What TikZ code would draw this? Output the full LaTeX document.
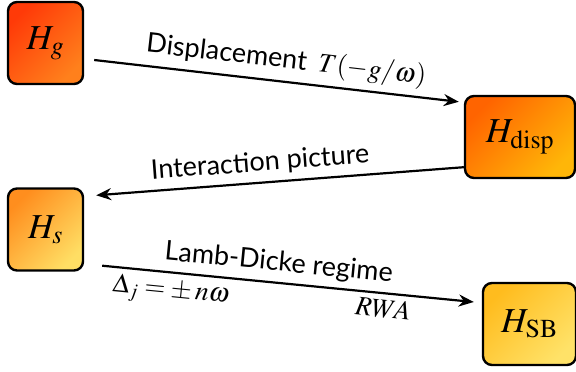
\documentclass[tikz,border=0pt]{standalone}
\usepackage{mathptmx}
\usepackage[no-math]{fontspec}
\setmainfont{Lato}
\usetikzlibrary{arrows.meta}
\definecolor{hgA}{RGB}{255,58,8}
\definecolor{hgB}{RGB}{255,128,28}
\definecolor{hdA}{RGB}{255,100,0}
\definecolor{hdB}{RGB}{255,182,8}
\definecolor{hsA}{RGB}{255,142,30}
\definecolor{hsB}{RGB}{255,222,100}
\definecolor{sbA}{RGB}{255,188,30}
\definecolor{sbB}{RGB}{255,226,104}
\tikzset{
  hambox/.style={draw=black, line width=2.4pt, rounded corners=9pt, minimum height=82pt, font=\fontsize{35}{37}\selectfont},
  flow/.style={-{Stealth[length=15pt,width=12pt]}, line width=2.2pt},
  lbl/.style={font=\fontsize{27}{30}\selectfont, sloped, inner sep=1pt}
}
\begin{document}
\begin{tikzpicture}[x=1pt, y=-1pt]
  \useasboundingbox (0,0) rectangle (576,372);
  % Hamiltonians
  \node[hambox, minimum width=75pt, top color=hgA, bottom color=hgB, shading angle=45] (Hg) at (45.5,43) {$H_g$};
  \node[hambox, minimum width=110pt, top color=hdA, bottom color=hdB, shading angle=45] (Hd) at (520,137) {$H_{\mathrm{disp}}$};
  \node[hambox, minimum width=75pt, top color=hsA, bottom color=hsB, shading angle=45] (Hs) at (45.5,229.5) {$H_s$};
  \node[hambox, minimum width=93pt, top color=sbA, bottom color=sbB, shading angle=45] (Hsb) at (529.5,324) {$H_{\mathrm{SB}}$};
  % Transformations
  \draw[flow] ([shift={(10,17)}]Hg.east) -- ([shift={(-5,7)}]Hd.north west)
    node[lbl, pos=0.52, above=5pt] {Displacement\hspace{12pt}$T(-g/\omega)$};
  \draw[flow] ([shift={(0,-12)}]Hd.south west) -- ([shift={(12,8)}]Hs.north east)
    node[lbl, pos=0.55, above=5pt] {Interaction picture};
  \draw[flow] ([shift={(18,-6)}]Hs.south east) -- ([shift={(-8,-22)}]Hsb.west)
    node[lbl, pos=0.47, above=5pt] {Lamb-Dicke regime}
    node[lbl, pos=0.19, below=4pt] {$\Delta_j=\pm\,n\omega$}
    node[lbl, pos=0.76, below=4pt] {$RWA$};
\end{tikzpicture}
\end{document}
